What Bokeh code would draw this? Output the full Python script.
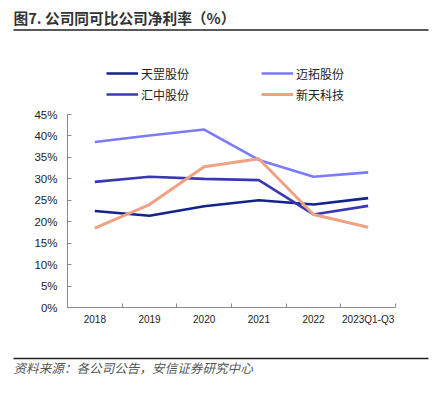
from bokeh.plotting import figure
from bokeh.layouts import column, row
from bokeh.models import (FixedTicker, PrintfTickFormatter, Legend, LegendItem,
                          ColumnDataSource, Range1d)
from bokeh.core.properties import value
from bokeh.embed import file_html
from bokeh.resources import INLINE

categories = ["2018", "2019", "2020", "2021", "2022", "2023Q1-Q3"]
tiangang = [22.5, 21.4, 23.6, 25.0, 24.0, 25.5]
maituo = [38.6, 40.1, 41.5, 34.4, 30.5, 31.5]
huizhong = [29.3, 30.5, 30.0, 29.7, 21.7, 23.7]
xintian = [18.5, 24.0, 32.8, 34.7, 21.7, 18.7]
y_ticks = [0, 5, 10, 15, 20, 25, 30, 35, 40, 45]
title_text = "图7. 公司同可比公司净利率（%）"
source_text = "资料来源：各公司公告，安信证券研究中心"

series = [
    ("天罡股份", tiangang, "#13238c", 2.6),
    ("迈拓股份", maituo, "#7b7bff", 2.6),
    ("汇中股份", huizhong, "#3a38b0", 2.6),
    ("新天科技", xintian, "#eea283", 3.0),
]

W = 434


def blank(h):
    f = figure(width=W, height=h, output_backend="svg", toolbar_location=None,
               x_range=Range1d(0, W), y_range=Range1d(h, 0),
               x_axis_location=None, y_axis_location=None,
               min_border_left=0, min_border_right=0, min_border_top=0,
               min_border_bottom=0)
    f.outline_line_color = None
    f.xgrid.visible = False
    f.ygrid.visible = False
    return f


# header
top = blank(50)
top.text(x=[13], y=[17], text=[title_text], text_baseline="middle",
         text_font=value("Noto Sans CJK SC"), text_font_size="14.7px",
         text_font_style="bold", text_color="#333333")
top.segment(x0=[13], y0=[29.5], x1=[428], y1=[29.5], line_color="#222222",
            line_width=1.5)

# main chart
frame_top, frame_bottom, tick45 = 58, 307, 114
y_end = 45 * (frame_bottom - frame_top) / (frame_bottom - tick45)
xs = [i + 0.5 for i in range(len(categories))]

p = figure(width=W, height=295, output_backend="svg", toolbar_location=None,
           x_range=(0, len(categories)), y_range=(0, y_end), title=None,
           min_border_left=67, min_border_right=39, min_border_top=8,
           min_border_bottom=38)
p.outline_line_color = None
p.xgrid.visible = False
p.ygrid.visible = False

renderers = {}
for name, vals, color, w in series:
    src = ColumnDataSource(dict(x=xs, y=vals))
    renderers[name] = p.line("x", "y", source=src, line_color=color, line_width=w)

xa = p.xaxis[0]
xa.ticker = FixedTicker(ticks=xs, minor_ticks=list(range(len(categories) + 1)))
xa.major_label_overrides = {x: c for x, c in zip(xs, categories)}
xa.major_tick_in = 0
xa.major_tick_out = 0
xa.minor_tick_in = 4
xa.minor_tick_out = 0
xa.axis_line_color = "#8a8a8a"
xa.minor_tick_line_color = "#8a8a8a"
xa.major_label_text_font = "Liberation Sans"
xa.major_label_text_font_size = "10px"
xa.major_label_text_color = "#222222"
xa.major_label_standoff = 6

ya = p.yaxis[0]
ya.ticker = FixedTicker(ticks=y_ticks, minor_ticks=[])
ya.formatter = PrintfTickFormatter(format="%d%%")
ya.bounds = (0, 45)
ya.major_tick_in = 4
ya.major_tick_out = 0
ya.axis_line_color = "#8a8a8a"
ya.major_tick_line_color = "#8a8a8a"
ya.major_label_text_font = "Liberation Sans"
ya.major_label_text_font_size = "11.5px"
ya.major_label_text_color = "#222222"
ya.major_label_standoff = 10

# legend is filled column by column: column 1 = 天罡, 汇中; column 2 = 迈拓, 新天
legend_order = ["天罡股份", "汇中股份", "迈拓股份", "新天科技"]
legend = Legend(items=[LegendItem(label=n, renderers=[renderers[n]]) for n in legend_order],
                ncols=2, location=(39, 203), padding=0, margin=0, spacing=1,
                glyph_width=32, glyph_height=20, label_standoff=3,
                label_width=119, label_height=20,
                border_line_color=None, background_fill_alpha=0,
                label_text_font="Noto Sans CJK SC", label_text_font_size="12px",
                label_text_color="#222222")
p.add_layout(legend, "center")

# footer
bot = blank(51)
bot.segment(x0=[13], y0=[13], x1=[428], y1=[13], line_color="#222222",
            line_width=1.5)
bot.text(x=[13], y=[22], text=[source_text], text_baseline="middle",
         text_font=value("Noto Sans CJK SC"), text_font_size="12.6px",
         text_font_style="italic", text_color="#555555")

layout = column(row(top), row(p), row(bot), spacing=0)
open("out.html", "w").write(file_html(layout, INLINE))
